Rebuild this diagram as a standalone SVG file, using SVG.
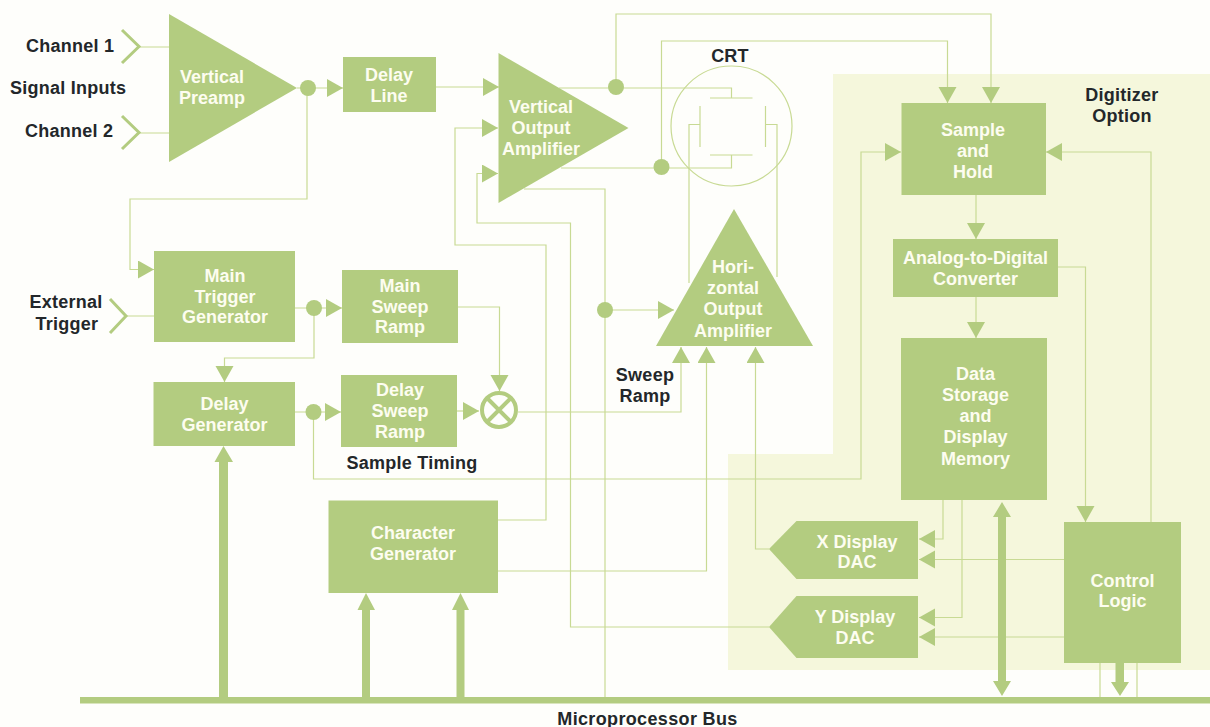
<svg xmlns="http://www.w3.org/2000/svg" width="1210" height="727" viewBox="0 0 1210 727">
<style>
.b{fill:#b3cc80}
.w{fill:none;stroke:#c8da94;stroke-width:1.2}
.i{fill:none;stroke:#b3cc80;stroke-width:3}
text{font-family:"Liberation Sans",Arial,sans-serif;font-size:18px;font-weight:700}
.t{fill:#fdfdf0;text-anchor:middle}
.l{fill:#23272a;letter-spacing:.25px}
.m{text-anchor:middle}
</style>
<defs>
<marker id="a" markerUnits="userSpaceOnUse" markerWidth="17" markerHeight="19" refX="16" refY="9" orient="auto"><path d="M0 0L16 9L0 18Z" fill="#b3cc80"/></marker>
</defs>
<rect width="1210" height="727" fill="#fefefb"/>
<path id="digitizer-area" d="M833 74H1210V670H728V454H833Z" fill="#f5f7dc"/>
<rect id="bus" x="80" y="697" width="1130" height="6.5" class="b"/>
<g id="connectors">
<path class="w" d="M139 47H169M139 133H169M126 316H154"/>
<path class="w" d="M297 88H343" marker-end="url(#a)"/>
<path class="w" d="M436 87H499" marker-end="url(#a)"/>
<path class="w" d="M307 88V199H130V269.5H154" marker-end="url(#a)"/>
<path class="w" d="M295 308H342" marker-end="url(#a)"/>
<path class="w" d="M314 308V358H224.5V382" marker-end="url(#a)"/>
<path class="w" d="M295 412H341" marker-end="url(#a)"/>
<path class="w" d="M457 411H479" marker-end="url(#a)"/>
<path class="w" d="M458 307H499.5V391" marker-end="url(#a)"/>
<path class="w" d="M518 412H681V347" marker-end="url(#a)"/>
<path class="w" d="M498 571H706.500V347" marker-end="url(#a)"/>
<path class="w" d="M769 549H755.500V347" marker-end="url(#a)"/>
<path class="w" d="M498 520H546V245H455V128H498" marker-end="url(#a)"/>
<path class="w" d="M769 627H570.500V223H477V173.500H498" marker-end="url(#a)"/>
<path class="w" d="M524 189H605V697"/>
<path class="w" d="M605 310H674" marker-end="url(#a)"/>
<path class="w" d="M559 88H731.500V98"/>
<path class="w" d="M561 168H731.500V155"/>
<path class="w" d="M616 88V14H991V103" marker-end="url(#a)"/>
<path class="w" d="M661.500 167V41H947.500V103" marker-end="url(#a)"/>
<path class="w" d="M313.500 412V479H861V152H901" marker-end="url(#a)"/>
<path class="w" d="M1151 522V152H1046" marker-end="url(#a)"/>
<path class="w" d="M976 195V239" marker-end="url(#a)"/>
<path class="w" d="M976 297V338" marker-end="url(#a)"/>
<path class="w" d="M1058 267H1085.500V522" marker-end="url(#a)"/>
<path class="w" d="M943 500V539H919" marker-end="url(#a)"/>
<path class="w" d="M962 500V617.500H919" marker-end="url(#a)"/>
<path class="w" d="M1064 559.500H919" marker-end="url(#a)"/>
<path class="w" d="M1064 637H919" marker-end="url(#a)"/>
<path class="w" d="M1100 663V697M1137 663V697"/>
<path class="b" d="M219 697V462H214.500L223.500 446L233 462H228V697Z"/>
<path class="b" d="M362 697V610H357.500L366 593L375 610H370V697Z"/>
<path class="b" d="M456.500 697V610H452L460.500 593L469 610H464.500V697Z"/>
<path class="b" d="M998 681V517H993L1002 502L1011 517H1006V681H1011L1002 696L993 681Z"/>
<path class="b" d="M1115.500 663V682H1111L1120 696L1129 682H1124V663Z"/>
<circle class="b" cx="308" cy="88" r="8"/>
<circle class="b" cx="314" cy="308" r="8"/>
<circle class="b" cx="313.500" cy="412" r="8"/>
<circle class="b" cx="616" cy="87" r="8"/>
<circle class="b" cx="661.500" cy="167" r="8"/>
<circle class="b" cx="605" cy="310" r="8"/>
</g>
<g id="channel-1"><path class="i" d="M122 30L139 46.500L122 63"/><text class="l" x="26" y="52">Channel 1</text></g>
<g id="signal-inputs"><text class="l" x="10" y="94">Signal Inputs</text></g>
<g id="channel-2"><path class="i" d="M122 116L139 132.500L122 149"/><text class="l" x="25" y="137">Channel 2</text></g>
<g id="external-trigger"><path class="i" d="M110 299L126 316L110 333"/><text class="l m" x="66" y="308">External</text><text class="l m" x="67" y="330">Trigger</text></g>
<g id="vertical-preamp"><path class="b" d="M169 14V162L297 88Z"/><text class="t" x="212" y="83">Vertical</text><text class="t" x="212" y="104">Preamp</text></g>
<g id="delay-line"><rect class="b" x="343" y="57" width="93" height="55"/><text class="t" x="389" y="81">Delay</text><text class="t" x="389" y="102">Line</text></g>
<g id="vertical-output-amplifier"><path class="b" d="M498.500 53V203L628.500 128Z"/><text class="t" x="541" y="113">Vertical</text><text class="t" x="541" y="134">Output</text><text class="t" x="541" y="155">Amplifier</text></g>
<g id="crt"><ellipse cx="731.500" cy="126" rx="60.500" ry="60" fill="none" stroke="#c8da94" stroke-width="1.2"/><path class="w" d="M710 98H752.500M710 155H752.500M700 106V147M765.500 106V147M689 283V124.500H700M777 277V124.500H765.500"/><text class="l m" x="730" y="62">CRT</text></g>
<g id="horizontal-output-amplifier"><path class="b" d="M734 209L656 346H813Z"/><text class="t" x="733" y="273">Hori-</text><text class="t" x="733" y="294">zontal</text><text class="t" x="733" y="315">Output</text><text class="t" x="733" y="337">Amplifier</text></g>
<g id="sweep-ramp-label"><text class="l m" x="645" y="381">Sweep</text><text class="l m" x="645" y="402">Ramp</text></g>
<g id="main-trigger-generator"><rect class="b" x="154" y="251" width="141" height="91"/><text class="t" x="225" y="282">Main</text><text class="t" x="225" y="303">Trigger</text><text class="t" x="225" y="323">Generator</text></g>
<g id="main-sweep-ramp"><rect class="b" x="342" y="270" width="116" height="73"/><text class="t" x="400" y="292">Main</text><text class="t" x="400" y="313">Sweep</text><text class="t" x="400" y="333">Ramp</text></g>
<g id="delay-generator"><rect class="b" x="153.500" y="382" width="141.500" height="64"/><text class="t" x="224.500" y="410">Delay</text><text class="t" x="224.500" y="431">Generator</text></g>
<g id="delay-sweep-ramp"><rect class="b" x="341" y="375" width="116" height="72"/><text class="t" x="400" y="396">Delay</text><text class="t" x="400" y="417">Sweep</text><text class="t" x="400" y="438">Ramp</text></g>
<g id="mixer"><circle cx="499" cy="410" r="17" fill="#fefefb" stroke="#b3cc80" stroke-width="4"/><path d="M487 398L511 422M511 398L487 422" stroke="#b3cc80" stroke-width="4"/></g>
<g id="sample-timing-label"><text class="l" x="346.500" y="468.500">Sample Timing</text></g>
<g id="character-generator"><rect class="b" x="328.500" y="500.500" width="169.500" height="92.500"/><text class="t" x="413" y="539">Character</text><text class="t" x="413" y="560">Generator</text></g>
<g id="digitizer-label"><text class="l m" x="1122" y="101">Digitizer</text><text class="l m" x="1122" y="122">Option</text></g>
<g id="sample-and-hold"><rect class="b" x="901.500" y="103" width="144.500" height="92"/><text class="t" x="973" y="136">Sample</text><text class="t" x="973" y="157">and</text><text class="t" x="973" y="178">Hold</text></g>
<g id="adc"><rect class="b" x="893" y="239" width="165" height="58"/><text class="t" x="975.500" y="264">Analog-to-Digital</text><text class="t" x="975.500" y="285">Converter</text></g>
<g id="data-storage"><rect class="b" x="901" y="338" width="146" height="162"/><text class="t" x="975.500" y="380">Data</text><text class="t" x="975.500" y="401">Storage</text><text class="t" x="975.500" y="422">and</text><text class="t" x="975.500" y="443">Display</text><text class="t" x="975.500" y="465">Memory</text></g>
<g id="x-display-dac"><path class="b" d="M769 549L796.500 521H918V579H796.500Z"/><text class="t" x="857" y="548">X Display</text><text class="t" x="857" y="568">DAC</text></g>
<g id="y-display-dac"><path class="b" d="M769 627L796.500 596H918V658H796.500Z"/><text class="t" x="855" y="623">Y Display</text><text class="t" x="855" y="644">DAC</text></g>
<g id="control-logic"><rect class="b" x="1064" y="522" width="117" height="141"/><text class="t" x="1122.500" y="587">Control</text><text class="t" x="1122.500" y="607">Logic</text></g>
<g id="bus-label"><text class="l m" x="647.500" y="725" style="letter-spacing:.35px">Microprocessor Bus</text></g>
</svg>
